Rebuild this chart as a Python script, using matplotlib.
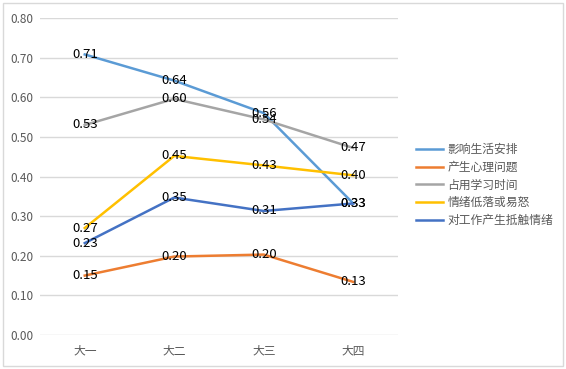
import matplotlib.pyplot as plt
from matplotlib.patches import Rectangle

plt.rcParams['font.family'] = ['Noto Sans CJK SC', 'DejaVu Sans']

# dados
grades = ['大一', '大二', '大三', '大四']
series_names = ['影响生活安排', '产生心理问题', '占用学习时间', '情绪低落或易怒', '对工作产生抵触情绪']
life = [0.708, 0.642, 0.560, 0.332]
psych = [0.150, 0.198, 0.203, 0.134]
study = [0.530, 0.596, 0.544, 0.472]
mood = [0.270, 0.452, 0.428, 0.403]
work = [0.232, 0.347, 0.313, 0.332]
colors = ['#5B9BD5', '#ED7D31', '#A5A5A5', '#FFC000', '#4472C4']

fig = plt.figure(figsize=(5.66, 3.69), dpi=100)
ax = fig.add_axes([0.0707, 0.0921, 0.6325, 0.8591])

# borda externa do gráfico
fig.patches.append(Rectangle((0.006, 0.008), 0.988, 0.984, transform=fig.transFigure,
                             fill=False, edgecolor='#D9D9D9', linewidth=1.0))

x = list(range(len(grades)))
for values, name, color in zip([life, psych, study, mood, work], series_names, colors):
    ax.plot(x, values, color=color, linewidth=1.8, label=name, zorder=3)
    for xi, v in zip(x, values):
        ax.text(xi, v, f'{v:.2f}', ha='center', va='center', fontsize=9.5,
                color='black', zorder=4)

ax.set_xlim(-0.5, 3.5)
ax.set_ylim(0, 0.8)
ax.set_xticks(x)
ax.set_xticklabels(grades)
ax.set_yticks([i / 10 for i in range(9)])
ax.set_yticklabels([f'{i / 10:.2f}' for i in range(9)])
ax.tick_params(axis='both', length=0, labelsize=8.5, labelcolor='#595959')
ax.tick_params(axis='x', pad=7)
ax.tick_params(axis='y', pad=5)
ax.grid(axis='y', color='#D9D9D9', linewidth=1.0)
ax.set_axisbelow(True)
for s in ax.spines.values():
    s.set_visible(False)

leg = ax.legend(loc='center left', bbox_to_anchor=(1.05, 0.473), frameon=False,
                fontsize=8.5, handlelength=2.3, labelspacing=0.4, handletextpad=0.35,
                borderaxespad=0, borderpad=0)
for t in leg.get_texts():
    t.set_color('#595959')

fig.savefig('out.png', dpi=100)
